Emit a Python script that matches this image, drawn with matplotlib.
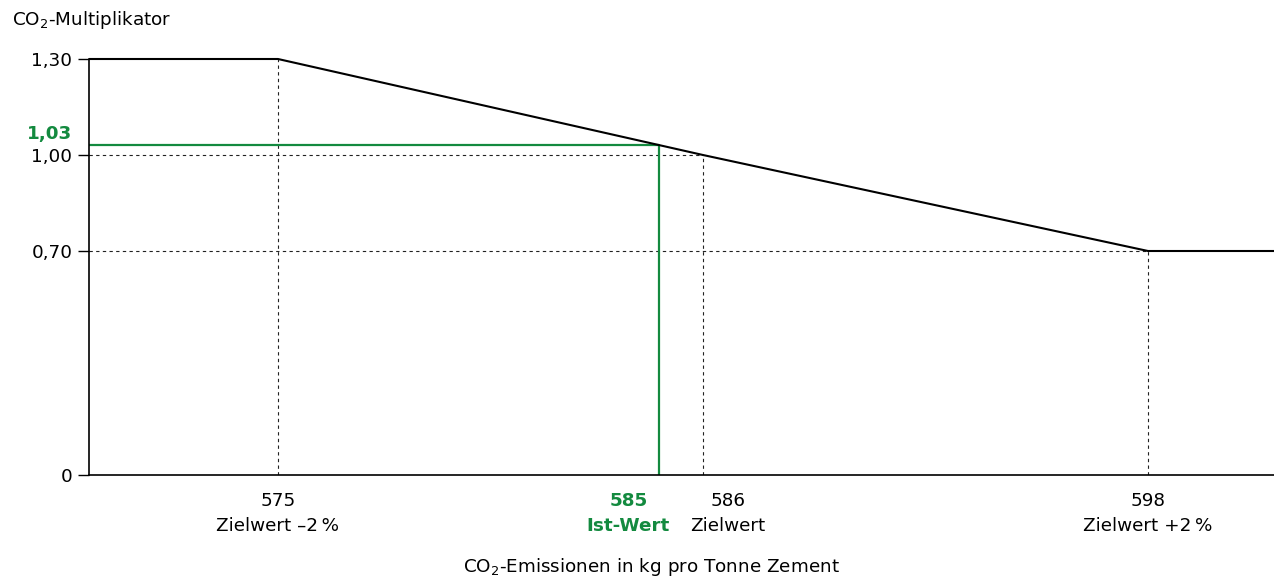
import matplotlib
matplotlib.use("Agg")
import numpy as np
import matplotlib.pyplot as plt
import matplotlib.transforms as mtransforms

# =======================
# daten
# =======================
kurve_x = [570, 575, 586, 598, 601.3]
kurve_y = [1.30, 1.30, 1.00, 0.70, 0.70]

ist_x = 585
ist_y = 1.03

ref_x = [575, 586, 598]
ref_y = [1.30, 1.00, 0.70]
ref_labels = ["575\nZielwert \u20132\u2009%", "586\nZielwert", "598\nZielwert +2\u2009%"]

y_ticks = [0, 0.70, 1.00, 1.30]
y_labels = ["0", "0,70", "1,00", "1,30"]

# schematische x-achse (nicht massstabsgetreu)
skala_x = [570, 575, 585, 586, 598, 601.3]
skala_pos = [0, 189, 570, 614, 1059, 1185]

gruen = "#138a3f"
strich = (0, (3, 3))
fs = 13.2

plt.rcParams["font.family"] = ["DejaVu Sans"]
plt.rcParams["mathtext.fontset"] = "dejavusans"
plt.rcParams["font.size"] = fs


def vor(x):
    return np.interp(x, skala_x, skala_pos)


def zurueck(p):
    return np.interp(p, skala_pos, skala_x)


fig = plt.figure(figsize=(12.74, 5.76), dpi=100)
ax = fig.add_axes([89 / 1274, 101 / 576, 1185 / 1274, 416 / 576])

ax.set_xscale("function", functions=(vor, zurueck))
ax.set_xlim(kurve_x[0], kurve_x[-1])
ax.set_ylim(0, 1.30)

# hilfslinien gestrichelt
for x, y in zip(ref_x, ref_y):
    ax.plot([x, x], [0, y], color="#222222", lw=0.8, ls=strich, zorder=1)
    if y < 1.30:
        ax.plot([kurve_x[0], x], [y, y], color="#222222", lw=0.8, ls=strich, zorder=1)

# kurve
ax.plot(kurve_x, kurve_y, color="black", lw=1.5, zorder=3, clip_on=False,
        solid_capstyle="butt")

# ist-wert
ax.plot([kurve_x[0], ist_x, ist_x], [ist_y, ist_y, 0], color=gruen, lw=1.6,
        zorder=2, solid_capstyle="butt")

# achsen
for s in ["top", "right"]:
    ax.spines[s].set_visible(False)
ax.spines["left"].set_linewidth(1.2)
ax.spines["bottom"].set_linewidth(1.2)

ax.set_yticks(y_ticks)
ax.set_yticklabels(y_labels)
ax.tick_params(axis="y", length=8, width=1, pad=4, labelsize=fs)
ax.set_xticks([])
ax.minorticks_off()

# y-label gruen
ax.annotate(f"{ist_y:.2f}".replace(".", ","), xy=(0, ist_y), xycoords=("axes fraction", "data"),
            xytext=(-12, 8), textcoords="offset points", ha="right", va="center",
            color=gruen, fontweight="bold", fontsize=fs)

# x-labels
trans = mtransforms.blended_transform_factory(ax.transData, ax.transAxes)
for x, lab in zip(ref_x, ref_labels):
    dx = 18 if x == 586 else 0
    ax.annotate(lab, xy=(x, 0), xycoords=trans, xytext=(dx, -12),
                textcoords="offset points", ha="center", va="top",
                fontsize=fs, linespacing=1.5)
ax.annotate(f"{ist_x}\nIst-Wert", xy=(ist_x, 0), xycoords=trans, xytext=(-22, -12),
            textcoords="offset points", ha="center", va="top", color=gruen,
            fontweight="bold", fontsize=fs, linespacing=1.5)

fig.text(12 / 1274, 1 - 20 / 576, "CO$_\\mathregular{2}$-Multiplikator",
         ha="left", va="center", fontsize=fs)
fig.text(651 / 1274, 1 - 567 / 576, "CO$_\\mathregular{2}$-Emissionen in kg pro Tonne Zement",
         ha="center", va="center", fontsize=fs)

fig.savefig("out.png", dpi=100)
